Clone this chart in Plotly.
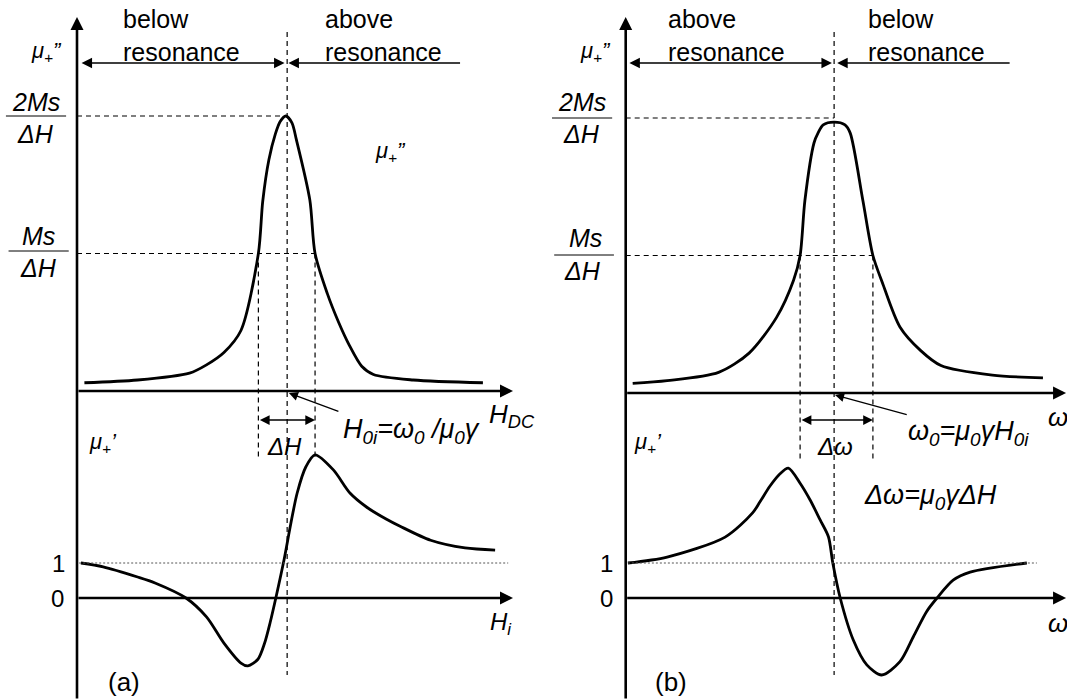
import plotly.graph_objects as go

# ---------------- data ----------------
# Panel (a): field sweep (field axis in arbitrary units, arrow tip = 100)
h_imag = [1.7, 13.9, 25.8, 29.7, 33.7, 37.6, 41.6, 42.6, 44.0, 45.5, 46.6, 47.9,
          49.3, 50.3, 53.4, 54.6, 57.4, 60.0, 62.5, 65.3, 68.0, 77.1, 93.1]
mu_imag_a = [0.06, 0.08, 0.13, 0.19, 0.28, 0.44, 1.0, 1.38, 1.68, 1.87, 1.96, 2.0,
             1.95, 1.83, 1.39, 1.0, 0.71, 0.5, 0.33, 0.18, 0.12, 0.08, 0.06]

h_real = [0.9, 6.0, 13.9, 17.9, 25.0, 29.7, 33.7, 37.6, 39.2, 41.5, 43.0, 44.3,
          45.6, 47.5, 49.0, 50.5, 52.5, 54.6, 58.8, 62.6, 66.4, 71.0, 74.1, 81.1,
          89.0, 95.9]
mu_real_a = [1.0, 0.89, 0.6, 0.43, 0.0, -0.54, -1.29, -1.86, -1.94, -1.75, -1.3,
             -0.7, 0.0, 1.1, 2.1, 3.0, 3.75, 4.09, 3.66, 3.0, 2.6, 2.25, 2.05, 1.65,
             1.43, 1.37]

# Panel (b): frequency sweep
w_imag = [1.6, 9.5, 21.3, 28.3, 34.6, 38.5, 40.0, 41.1, 43.2, 44.1, 45.3, 47.8,
          50.3, 51.5, 54.4, 56.7, 58.9, 62.9, 67.6, 72.3, 84.1, 95.7]
mu_imag_b = [0.07, 0.09, 0.15, 0.29, 0.55, 0.82, 1.0, 1.40, 1.82, 1.89, 1.95, 1.97,
             1.95, 1.89, 1.40, 1.0, 0.80, 0.48, 0.31, 0.20, 0.13, 0.11]

w_real = [0.5, 9.5, 22.8, 29.1, 30.8, 33.1, 35.4, 37.3, 40.0, 42.3, 44.6, 46.5,
          47.5, 49.2, 52.2, 55.3, 58.7, 62.9, 66.0, 69.0, 71.4, 75.1, 79.0, 92.0]
mu_real_b = [1.0, 1.17, 1.74, 2.43, 2.75, 3.2, 3.55, 3.71, 3.28, 2.8, 2.23, 1.75,
             1.0, 0.0, -1.2, -1.91, -2.2, -1.82, -1.1, -0.39, 0.0, 0.51, 0.74, 1.0]

# characteristic values
RES_A, HALF_A = 48.2, (41.6, 54.6)
RES_B, HALF_B = 47.8, (40.0, 56.7)
PEAK_LEVEL, HALF_LEVEL = 2.0, 1.0

# ---------------- geometry of the sketch ----------------
W, H = 1067, 700
U = 4.36                      # px per x unit
XA0, XB0 = 77.0, 625.7        # px position of the vertical axes
SPLIT = 0.5
YA0_TOP, YB0_TOP = 391.0, 393.0   # px of mu'' zero lines
Y0_BOT = 598.0                    # px of mu' zero lines
SY_TOP, SY_BOT = 137.5, 35.0      # px per unit

xr_a = [(0 - XA0) / U, (SPLIT * W - XA0) / U]
xr_b = [(SPLIT * W - XB0) / U, (W - XB0) / U]
yr_ta = [(YA0_TOP - H) / SY_TOP, YA0_TOP / SY_TOP]
yr_tb = [(YB0_TOP - H) / SY_TOP, YB0_TOP / SY_TOP]
yr_bot = [(Y0_BOT - H) / SY_BOT, Y0_BOT / SY_BOT]

FONT = "Liberation Sans, Arial, sans-serif"
BLK = "black"

fig = go.Figure()
curve = dict(color=BLK, width=2.8, shape="spline", smoothing=0.8)
fig.add_trace(go.Scatter(x=h_imag, y=mu_imag_a, mode="lines", line=curve, xaxis="x", yaxis="y"))
fig.add_trace(go.Scatter(x=h_real, y=mu_real_a, mode="lines", line=curve, xaxis="x", yaxis="y2"))
fig.add_trace(go.Scatter(x=w_imag, y=mu_imag_b, mode="lines", line=curve, xaxis="x2", yaxis="y3"))
fig.add_trace(go.Scatter(x=w_real, y=mu_real_b, mode="lines", line=curve, xaxis="x2", yaxis="y4"))

shapes = []
annos = []


def seg(x0, y0, x1, y1, xr, yr, dash="5px,4px", width=1.2, color=BLK):
    shapes.append(dict(type="line", x0=x0, y0=y0, x1=x1, y1=y1, xref=xr, yref=yr,
                       line=dict(color=color, width=width, dash=dash)))


def arrow(x, y, ax, ay, xr, yr, width=2.6, size=1.0, both=False):
    a = dict(x=x, y=y, ax=ax, ay=ay, xref=xr, yref=yr, axref=xr, ayref=yr,
             text="", showarrow=True, arrowhead=2, arrowsize=size,
             arrowwidth=width, arrowcolor=BLK, standoff=0)
    if both:
        a.update(arrowside="end+start", startarrowhead=2, startarrowsize=size,
                 startstandoff=0)
    annos.append(a)


def txt(x, y, s, xr, yr, size=24, xanchor="center", italic=False):
    if italic:
        s = "<i>" + s + "</i>"
    annos.append(dict(x=x, y=y, text=s, xref=xr, yref=yr, showarrow=False,
                      xanchor=xanchor, yanchor="middle", align="left",
                      font=dict(family=FONT, size=size, color=BLK)))


def ty(px, zero):          # px -> top data units
    return (zero - px) / SY_TOP


def by(px):                # px -> bottom data units
    return (Y0_BOT - px) / SY_BOT


def panel(xr, ytop, ybot, zero_top, res, half, x_end, dot_end, reg_arrows,
          labels, texts):
    # axes
    arrow(0, ty(17, zero_top), 0, ty(H, zero_top), xr, ytop)
    arrow(x_end, 0, 0, 0, xr, ytop)
    arrow(x_end, 0, 0, 0, xr, ybot)
    # dotted unity line
    seg(0.5, 1, dot_end, 1, xr, ybot, dash="2px,2px", width=1.0, color="#555")
    # resonance line
    seg(res, ty(32, zero_top), res, ty(675, zero_top), xr, ytop)
    # level lines
    seg(0, PEAK_LEVEL, res, PEAK_LEVEL, xr, ytop)
    seg(0, HALF_LEVEL, half[1], HALF_LEVEL, xr, ytop)
    for hx in half:
        seg(hx, HALF_LEVEL, hx, ty(459, zero_top), xr, ytop)
    # width arrow
    arrow(half[1], ty(420, zero_top), half[0], ty(420, zero_top), xr, ytop,
          width=1.5, size=1.3, both=True)
    # region arrows
    ry = ty(63, zero_top)
    l0, l1, r0, r1 = reg_arrows
    arrow(l1, ry, l0, ry, xr, ytop, width=1.5, size=1.4, both=True)
    arrow(r1, ry, r0, ry, xr, ytop, width=1.5, size=1.4)
    for (x, y, s, size, anc, it) in labels:
        txt(x, y, s, xr, ytop, size=size, xanchor=anc, italic=it)
    for (x, y, s, size, anc, it) in texts:
        txt(x, y, s, xr, ybot, size=size, xanchor=anc, italic=it)


MU2 = "μ<sub>+</sub>”"
MU1 = "μ<sub>+</sub>’"

# ---- panel (a)
za = YA0_TOP
panel("x", "y", "y2", za, RES_A, HALF_A, 100.0, 98.9, (0.7, 47.6, 88.2, 48.5),
      [
          (10.1, ty(35.5, za), "below<br>resonance", 25, "left", False),
          (56.5, ty(35.5, za), "above<br>resonance", 25, "left", False),
          (-7.1, ty(52, za), MU2, 22, "center", True),
          (-9.3, ty(102, za), "2Ms", 25, "center", True),
          (-9.6, ty(134, za), "ΔH", 25, "center", True),
          (-8.8, ty(236, za), "Ms", 25, "center", True),
          (-8.9, ty(268, za), "ΔH", 25, "center", True),
          (68.0, ty(152, za), MU2, 22, "left", True),
          (47.7, ty(446, za), "ΔH", 24, "center", True),
          (60.6, ty(431, za), "H<sub>0i</sub>=ω<sub>0</sub> /μ<sub>0</sub>γ", 27, "left", True),
          (94.0, ty(415, za), "H<sub>DC</sub>", 26, "left", True),
      ],
      [
          (2.3, by(443), MU1, 22, "left", True),
          (-4.3, 1, "1", 24, "center", False),
          (-4.5, 0, "0", 24, "center", False),
          (94.2, by(623), "H<sub>i</sub>", 24, "left", True),
          (10.8, by(682), "(a)", 26, "center", False),
      ])
seg(-16.3, PEAK_LEVEL, -2.5, PEAK_LEVEL, "x", "y", dash="solid", width=1.0)
seg(-15.7, ty(251, za), -1.9, ty(251, za), "x", "y", dash="solid", width=1.0)
arrow(48.6, ty(393, za), 60.3, ty(412, za), "x", "y", width=1.3, size=1.4)

# ---- panel (b)
zb = YB0_TOP
panel("x2", "y3", "y4", zb, RES_B, HALF_B, 101.0, 94.3, (0.5, 47.3, 88.4, 48.5),
      [
          (9.3, ty(35.5, zb), "above<br>resonance", 25, "left", False),
          (55.1, ty(35.5, zb), "below<br>resonance", 25, "left", False),
          (-7.0, ty(52, zb), MU2, 22, "center", True),
          (-10.0, ty(102, zb), "2Ms", 25, "center", True),
          (-10.2, ty(134, zb), "ΔH", 25, "center", True),
          (-9.3, ty(238, zb), "Ms", 25, "center", True),
          (-9.8, ty(271, zb), "ΔH", 25, "center", True),
          (48.0, ty(446, zb), "Δω", 24, "center", True),
          (64.3, ty(433, zb), "ω<sub>0</sub>=μ<sub>0</sub>γH<sub>0i</sub>", 27, "left", True),
          (96.4, ty(417, zb), "ω", 26, "left", True),
      ],
      [
          (1.5, by(443), MU1, 22, "left", True),
          (-4.5, 1, "1", 24, "center", False),
          (-4.5, 0, "0", 24, "center", False),
          (96.4, by(623), "ω", 26, "left", True),
          (10.4, by(682), "(b)", 26, "center", False),
          (54.2, by(497), "Δω=μ<sub>0</sub>γΔH", 27, "left", True),
      ])
seg(-16.9, PEAK_LEVEL, -3.1, PEAK_LEVEL, "x2", "y3", dash="solid", width=1.0)
seg(-16.4, ty(255, zb), -2.7, ty(255, zb), "x2", "y3", dash="solid", width=1.0)
arrow(48.0, ty(395, zb), 64.8, ty(415, zb), "x2", "y3", width=1.3, size=1.4)

hidden = dict(visible=False, fixedrange=True)
fig.update_layout(
    width=W, height=H, margin=dict(l=0, r=0, t=0, b=0),
    paper_bgcolor="white", plot_bgcolor="rgba(0,0,0,0)",
    showlegend=False,
    xaxis=dict(domain=[0, SPLIT], range=xr_a, **hidden),
    xaxis2=dict(domain=[SPLIT, 1], range=xr_b, **hidden),
    yaxis=dict(domain=[0, 1], range=yr_ta, anchor="x", **hidden),
    yaxis2=dict(domain=[0, 1], range=yr_bot, anchor="x", overlaying="y", **hidden),
    yaxis3=dict(domain=[0, 1], range=yr_tb, anchor="x2", **hidden),
    yaxis4=dict(domain=[0, 1], range=yr_bot, anchor="x2", overlaying="y3", **hidden),
    shapes=shapes, annotations=annos,
)
fig.write_html("out.html")
